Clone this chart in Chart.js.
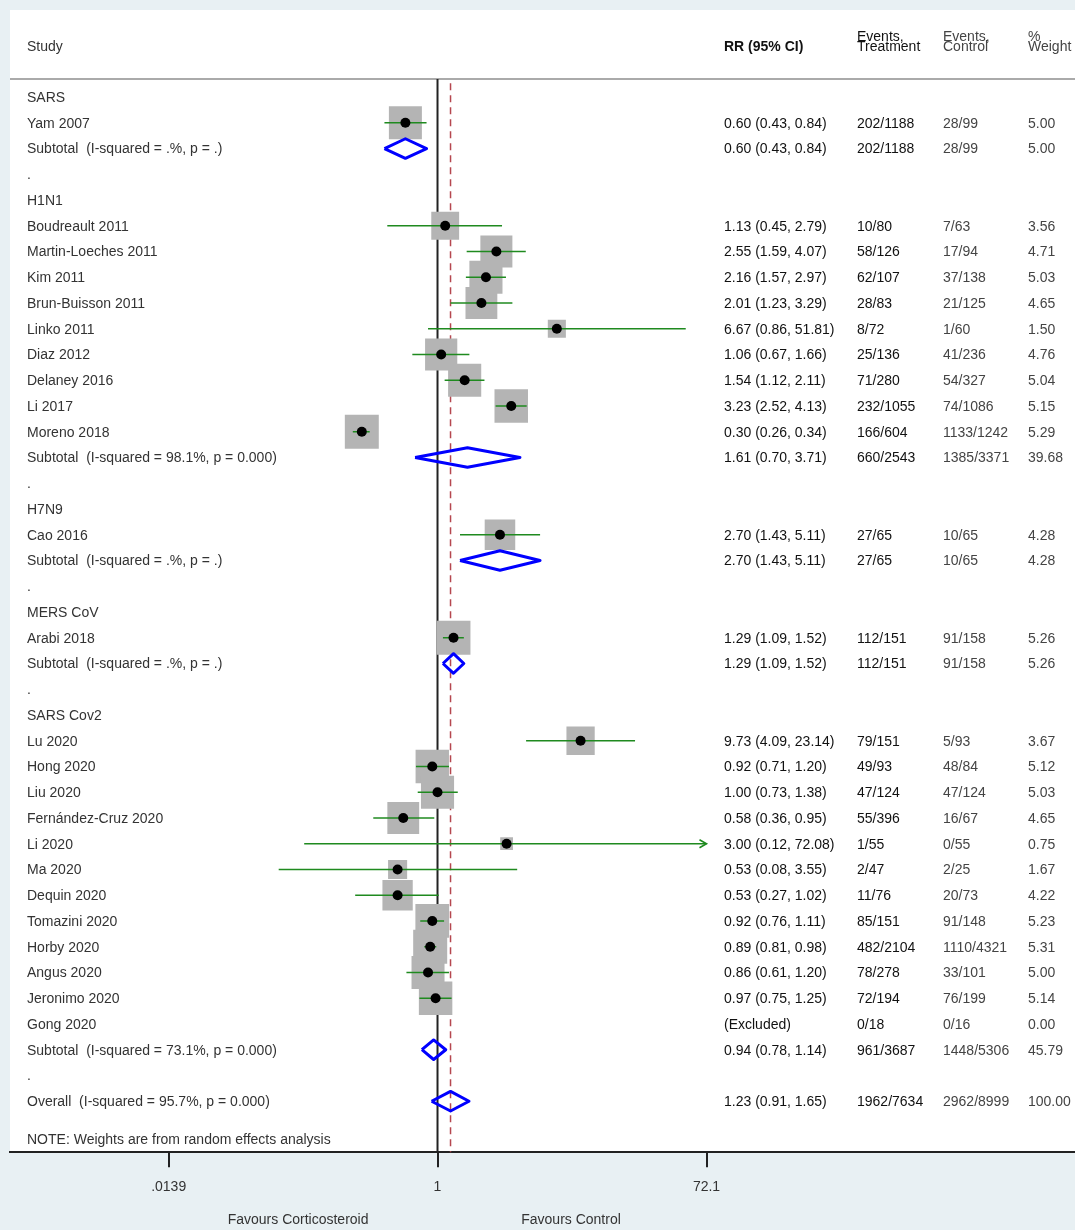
<!DOCTYPE html>
<html>
<head>
<meta charset="utf-8">
<script src="https://cdn.jsdelivr.net/npm/chart.js@4.4.1/dist/chart.umd.min.js"></script>
<style>
  html, body { margin: 0; padding: 0; background: #e8f0f3; }
  canvas { display: block; }
</style>
</head>
<body>
<canvas id="forest" width="1075" height="1230"></canvas>
<script>
// Table rows, top to bottom (row index = y value)
const rowLabels = [
  'SARS', 'Yam 2007', 'Subtotal  (I-squared = .%, p = .)', '.',
  'H1N1', 'Boudreault 2011', 'Martin-Loeches 2011', 'Kim 2011', 'Brun-Buisson 2011',
  'Linko 2011', 'Diaz 2012', 'Delaney 2016', 'Li 2017', 'Moreno 2018',
  'Subtotal  (I-squared = 98.1%, p = 0.000)', '.',
  'H7N9', 'Cao 2016', 'Subtotal  (I-squared = .%, p = .)', '.',
  'MERS CoV', 'Arabi 2018', 'Subtotal  (I-squared = .%, p = .)', '.',
  'SARS Cov2', 'Lu 2020', 'Hong 2020', 'Liu 2020', 'Fernández-Cruz 2020', 'Li 2020',
  'Ma 2020', 'Dequin 2020', 'Tomazini 2020', 'Horby 2020', 'Angus 2020', 'Jeronimo 2020',
  'Gong 2020', 'Subtotal  (I-squared = 73.1%, p = 0.000)', '.',
  'Overall  (I-squared = 95.7%, p = 0.000)'
];

// Individual studies
const studyRows   = [1, 5, 6, 7, 8, 9, 10, 11, 12, 13, 17, 21, 25, 26, 27, 28, 29, 30, 31, 32, 33, 34, 35];
const studyRR     = [0.60, 1.13, 2.55, 2.16, 2.01, 6.67, 1.06, 1.54, 3.23, 0.30, 2.70, 1.29, 9.73, 0.92, 1.00, 0.58, 3.00, 0.53, 0.53, 0.92, 0.89, 0.86, 0.97];
const studyLo     = [0.43, 0.45, 1.59, 1.57, 1.23, 0.86, 0.67, 1.12, 2.52, 0.26, 1.43, 1.09, 4.09, 0.71, 0.73, 0.36, 0.12, 0.08, 0.27, 0.76, 0.81, 0.61, 0.75];
const studyHi     = [0.84, 2.79, 4.07, 2.97, 3.29, 51.81, 1.66, 2.11, 4.13, 0.34, 5.11, 1.52, 23.14, 1.20, 1.38, 0.95, 72.08, 3.55, 1.02, 1.11, 0.98, 1.20, 1.25];
const studyWeight = [5.00, 3.56, 4.71, 5.03, 4.65, 1.50, 4.76, 5.04, 5.15, 5.29, 4.28, 5.26, 3.67, 5.12, 5.03, 4.65, 0.75, 1.67, 4.22, 5.23, 5.31, 5.00, 5.14];

// Subtotals and overall (diamonds)
const poolRows   = [2, 14, 18, 22, 37, 39];
const poolRR     = [0.60, 1.61, 2.70, 1.29, 0.94, 1.23];
const poolLo     = [0.43, 0.70, 1.43, 1.09, 0.78, 0.91];
const poolHi     = [0.84, 3.71, 5.11, 1.52, 1.14, 1.65];
const poolWeight = [5.00, 39.68, 4.28, 5.26, 45.79, 100.00];

const excludedRows = [36];
const excludedWeight = [0.00];

// Events columns, by row
const eventsTreatment = [
  '', '202/1188', '202/1188', '',
  '', '10/80', '58/126', '62/107', '28/83', '8/72', '25/136', '71/280', '232/1055', '166/604', '660/2543', '',
  '', '27/65', '27/65', '',
  '', '112/151', '112/151', '',
  '', '79/151', '49/93', '47/124', '55/396', '1/55', '2/47', '11/76', '85/151', '482/2104', '78/278', '72/194', '0/18', '961/3687', '',
  '1962/7634'
];
const eventsControl = [
  '', '28/99', '28/99', '',
  '', '7/63', '17/94', '37/138', '21/125', '1/60', '41/236', '54/327', '74/1086', '1133/1242', '1385/3371', '',
  '', '10/65', '10/65', '',
  '', '91/158', '91/158', '',
  '', '5/93', '48/84', '47/124', '16/67', '0/55', '2/25', '20/73', '91/148', '1110/4321', '33/101', '76/199', '0/16', '1448/5306', '',
  '2962/8999'
];

// Axis
const xTicks = [0.0139, 1, 72.1];
const xTickLabels = ['.0139', '1', '72.1'];
const overallRR = 1.23;

// RR text and weight text by row, built from the numbers above
const fmt = v => v.toFixed(2);
const rrText = rowLabels.map(() => '');
const weightText = rowLabels.map(() => '');
studyRows.forEach((r, i) => {
  rrText[r] = fmt(studyRR[i]) + ' (' + fmt(studyLo[i]) + ', ' + fmt(studyHi[i]) + ')';
  weightText[r] = fmt(studyWeight[i]);
});
poolRows.forEach((r, i) => {
  rrText[r] = fmt(poolRR[i]) + ' (' + fmt(poolLo[i]) + ', ' + fmt(poolHi[i]) + ')';
  weightText[r] = fmt(poolWeight[i]);
});
excludedRows.forEach((r, i) => {
  rrText[r] = '(Excluded)';
  weightText[r] = fmt(excludedWeight[i]);
});

const GREEN = '#1f8a1f';
const FAMILY = '"Liberation Sans", Arial, sans-serif';
const FONT = '14px ' + FAMILY;

// CI lines, one dataset each
const ciSets = studyRows.map((r, i) => ({
  type: 'scatter',
  data: [{ x: studyLo[i], y: r }, { x: studyHi[i], y: r }],
  showLine: true,
  borderColor: GREEN,
  borderWidth: 1.6,
  pointRadius: 0,
  order: 2
}));

// diamonds
const DH = 0.38;
const diamondSets = poolRows.map((r, i) => ({
  type: 'scatter',
  data: [
    { x: poolLo[i], y: r }, { x: poolRR[i], y: r - DH },
    { x: poolHi[i], y: r }, { x: poolRR[i], y: r + DH },
    { x: poolLo[i], y: r }
  ],
  showLine: true,
  borderColor: '#0000ff',
  borderWidth: 3,
  borderJoinStyle: 'round',
  pointRadius: 0,
  order: 2
}));

const forestDecor = {
  id: 'forestDecor',
  beforeDraw(chart) {
    const { ctx, chartArea } = chart;
    ctx.save();
    ctx.fillStyle = '#e8f0f3';
    ctx.fillRect(0, 0, chart.width, chart.height);
    ctx.fillStyle = '#ffffff';
    ctx.fillRect(10, 10, chart.width - 10, chartArea.bottom - 10);
    // header
    ctx.fillStyle = '#333';
    ctx.font = FONT;
    ctx.textBaseline = 'middle';
    ctx.fillText('Study', 27, 47);
    ctx.fillStyle = '#111';
    ctx.font = 'bold 14px ' + FAMILY;
    ctx.fillText('RR (95% CI)', 724, 47);
    ctx.font = FONT;
    ctx.fillText('Events,', 857, 37);
    ctx.fillText('Treatment', 857, 47);
    ctx.fillStyle = '#444';
    ctx.fillText('Events,', 943, 37);
    ctx.fillText('Control', 943, 47);
    ctx.fillText('%', 1028, 37);
    ctx.fillText('Weight', 1028, 47);
    // header rule
    ctx.strokeStyle = '#aaaaaa';
    ctx.lineWidth = 2;
    ctx.beginPath();
    ctx.moveTo(10, chartArea.top);
    ctx.lineTo(chart.width, chartArea.top);
    ctx.stroke();
    ctx.restore();
  },
  afterDatasetsDraw(chart) {
    const { ctx } = chart;
    const xs = chart.scales.x, ys = chart.scales.y;
    ctx.save();
    ctx.font = FONT;
    ctx.textBaseline = 'middle';
    rowLabels.forEach((lab, r) => {
      const y = ys.getPixelForValue(r) + 1;
      ctx.fillStyle = '#333';
      ctx.fillText(lab, 27, y);
      ctx.fillStyle = '#111';
      ctx.fillText(rrText[r], 724, y);
      ctx.fillText(eventsTreatment[r], 857, y);
      ctx.fillStyle = '#444';
      ctx.fillText(eventsControl[r], 943, y);
      ctx.fillText(weightText[r], 1028, y);
    });
    ctx.fillStyle = '#333';
    ctx.fillText('NOTE: Weights are from random effects analysis', 27, ys.getPixelForValue(40.5));

    // arrow where CI runs past the axis
    studyRows.forEach((r, i) => {
      if (studyHi[i] >= xTicks[2] - 0.1) {
        const x = xs.getPixelForValue(studyHi[i]);
        const y = ys.getPixelForValue(r);
        ctx.strokeStyle = GREEN;
        ctx.lineWidth = 1.6;
        ctx.beginPath();
        ctx.moveTo(x - 7, y - 4);
        ctx.lineTo(x, y);
        ctx.lineTo(x - 7, y + 4);
        ctx.stroke();
      }
    });

    // favours labels
    ctx.fillStyle = '#333';
    ctx.textAlign = 'center';
    const p0 = xs.getPixelForValue(xTicks[0]);
    const p1 = xs.getPixelForValue(xTicks[1]);
    const p2 = xs.getPixelForValue(xTicks[2]);
    ctx.fillText('Favours Corticosteroid', (p0 + p1) / 2 - 5, 1220);
    ctx.fillText('Favours Control', (p1 + p2) / 2 - 1, 1220);
    ctx.restore();
  }
};

new Chart(document.getElementById('forest'), {
  type: 'scatter',
  data: {
    datasets: [
      {
        // point estimates
        data: studyRows.map((r, i) => ({ x: studyRR[i], y: r })),
        pointStyle: 'circle',
        pointRadius: 5,
        backgroundColor: '#000',
        borderColor: '#000',
        borderWidth: 0,
        order: 0
      },
      ...ciSets,
      ...diamondSets,
      {
        // weight boxes
        data: studyRows.map((r, i) => ({ x: studyRR[i], y: r })),
        pointStyle: 'rect',
        pointRadius: ctx => 14.76 * Math.sqrt(studyWeight[ctx.dataIndex]) / Math.SQRT2,
        backgroundColor: '#b4b4b4',
        borderWidth: 0,
        order: 3
      },
      {
        // overall effect line
        data: [{ x: overallRR, y: -1 }, { x: overallRR, y: 42 }],
        showLine: true,
        borderColor: '#b5474f',
        borderWidth: 1.5,
        borderDash: [7, 5],
        pointRadius: 0,
        order: 4
      },
      {
        // line of no effect
        data: [{ x: 1, y: -1 }, { x: 1, y: 42 }],
        showLine: true,
        borderColor: '#222',
        borderWidth: 2,
        pointRadius: 0,
        order: 5
      }
    ]
  },
  options: {
    responsive: false,
    animation: false,
    events: [],
    layout: { autoPadding: false, padding: { left: 10, right: 0, top: 79, bottom: 22 } },
    plugins: { legend: { display: false }, tooltip: { enabled: false } },
    scales: {
      x: {
        type: 'logarithmic',
        bounds: 'data',
        min: 0.001115,
        max: 25290,
        afterBuildTicks: scale => { scale.ticks = xTicks.map(v => ({ value: v })); },
        ticks: {
          autoSkip: false,
          maxRotation: 0,
          padding: 12,
          color: '#333',
          font: { family: FAMILY, size: 14 },
          callback: (v, i) => xTickLabels[i]
        },
        grid: { drawOnChartArea: false, drawTicks: true, tickLength: 15, color: '#222', lineWidth: 2 },
        border: { display: true, color: '#222', width: 2 }
      },
      y: {
        type: 'linear',
        display: false,
        reverse: true,
        min: -0.7,
        max: 40.98
      }
    }
  },
  plugins: [forestDecor]
});
</script>
</body>
</html>
